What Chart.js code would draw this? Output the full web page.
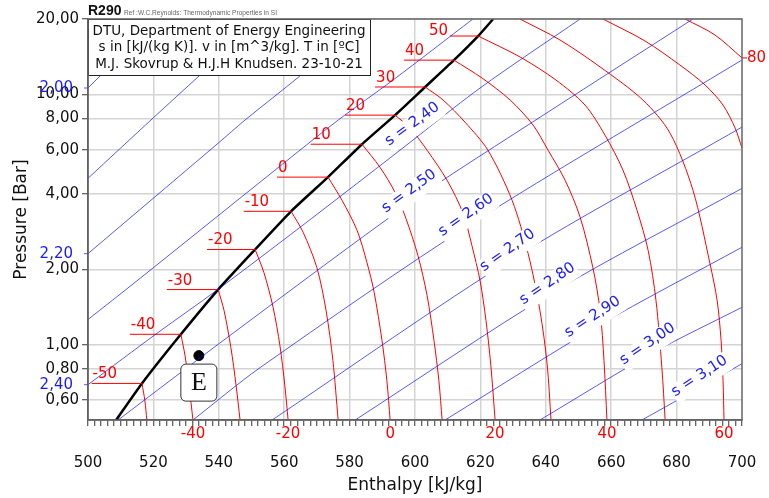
<!DOCTYPE html>
<html><head><meta charset="utf-8">
<script src="https://cdn.jsdelivr.net/npm/chart.js@4/dist/chart.umd.min.js"></script>
<style>html,body{margin:0;padding:0;background:#fff;overflow:hidden}</style>
</head><body>
<canvas id="c" width="769" height="498"></canvas>
<script>
// ---------- data (h in kJ/kg, p in bar) ----------
const yTicks = [0.6, 0.8, 1, 2, 4, 6, 8, 10, 20];
const satLine = [[508.6,0.5],[516.5,0.70],[528.4,1.10],[539.8,1.66],[551.1,2.40],[562.1,3.41],[573.4,4.67],[583.8,6.32],[593.9,8.26],[603.1,10.7],[611.9,13.7],[619.3,17.1],[623.9,20]];
const isoTemps = [-50,-40,-30,-20,-10,0,10,20,30,40,50];
const isoLeftH = [501.1,512.8,524.1,536.4,547.6,557.8,568.1,578.6,587.8,596.6,610.7];
const isoM50 = [[516.5,0.70],[517.4,0.597],[518.0,0.5]];
const isoM40 = [[528.4,1.10],[529.7,0.90],[530.9,0.685],[532.1,0.5]];
const isoM30 = [[539.8,1.66],[541.6,1.37],[543.7,0.973],[545.3,0.685],[546.5,0.5]];
const isoM20 = [[551.1,2.40],[553.8,1.94],[556.6,1.41],[558.7,0.99],[560.2,0.685],[561.2,0.5]];
const isoM10 = [[562.1,3.41],[565.8,2.81],[570.0,2.03],[572.8,1.37],[574.9,0.863],[576.5,0.5]];
const iso0  = [[573.4,4.67],[577.7,3.77],[582.3,2.86],[585.3,2.13],[587.5,1.62],[589.9,1.04],[591.4,0.718],[592.4,0.5]];
const iso10 = [[583.8,6.32],[589.3,5.11],[593.9,4.06],[597.2,3.20],[600.9,2.27],[603.7,1.57],[605.8,1.04],[607.3,0.718],[608.3,0.5]];
const iso20 = [[593.9,8.26],[598.5,7.33],[603.7,5.98],[609.8,4.54],[614.7,3.35],[617.4,2.49],[619.9,1.80],[621.7,1.25],[623.2,0.824],[624.5,0.5]];
const iso30 = [[603.1,10.7],[608.6,9.49],[615.3,7.74],[622.3,5.98],[629.7,3.77],[634.6,2.31],[638.2,1.37],[640.4,0.839],[641.6,0.5]];
const iso40 = [[611.9,13.7],[620.5,11.62],[629.1,9.49],[636.1,7.54],[640.7,5.98],[645.9,4.54],[650.5,3.23],[654.4,2.03],[656.6,1.37],[657.8,0.863],[658.7,0.5]];
const iso50 = [[619.3,17.1],[632.1,14.11],[643.1,11.41],[652.0,9.06],[658.1,6.87],[663.6,4.98],[667.9,3.44],[671.3,2.38],[673.7,1.50],[675.5,0.809],[676.5,0.5]];
const iso60 = [[632.1,20],[644.3,16.5],[656.6,12.87],[669.7,9.49],[678.0,7.00],[685.0,4.14],[690.2,2.11],[692.4,1.50],[693.6,1.04],[694.2,0.718],[694.5,0.5]];
const iso70 = [[657.5,20],[670.3,16.35],[681.0,13.10],[688.7,10.9],[694.2,9.06],[697.9,7.33],[700,6.10]];
const iso80 = [[682.6,20],[691.7,17.28],[700,13.98]];
const bottomLabelTemps = [-40,-20,0,20,40,60];

const s200 = [[500,10.6],[521.1,20]];
const s210 = [[500,4.62],[519.9,8.04],[534.3,11.95],[553.2,20]];
const s220 = [[500,2.31],[539.8,6.38],[548.0,7.89],[564.8,11.84],[585.6,20]];
const s230 = [[500,1.26],[515.0,1.80],[557.2,4.98],[576.5,7.89],[593.3,11.41],[617.7,20]];
const s240 = [[500,0.692],[521.1,1.11],[539.4,1.65],[564.8,2.94],[595.4,5.98],[619.9,10.6],[650.5,20]];
const s250 = [[509.2,0.5],[544.3,1.11],[600.0,3.81],[632.1,7.19],[685.0,20]];
const s260 = [[532.1,0.5],[552.6,0.809],[617.4,3.05],[700,13.72]];
const s270 = [[556.3,0.5],[630.0,2.21],[700,7.40]];
const s280 = [[581.7,0.5],[642.2,1.62],[700,4.21]];
const s290 = [[609.2,0.5],[656.0,1.19],[700,2.45]];
const s300 = [[638.2,0.5],[672.8,0.929],[700,1.41]];
const s310 = [[669.4,0.5],[688.7,0.692],[700,0.839]];
const sLeftLabels = ['2,00','2,20','2,40'];
const sInLabels = ['s = 2,40','s = 2,50','s = 2,60','s = 2,70','s = 2,80','s = 2,90','s = 3,00','s = 3,10'];
const sInLabelAt = [[599.2,7.60],[598.2,4.10],[615.6,3.29],[628.3,2.38],[640.5,1.75],[654.3,1.29],[671.1,1.005],[687.0,0.748]];
const pointE = [533.9, 0.904];

// ---------- styles ----------
const sInLabelAngle = [36,36,35,35,34,33,34,33];
const RED = '#ff0000', BLUE = 'rgba(0,0,255,0.65)';
const FONT = '"DejaVu Sans", sans-serif';

const isoCurves = [isoM50,isoM40,isoM30,isoM20,isoM10,iso0,iso10,iso20,iso30,iso40,iso50];
const allIso = isoCurves.concat([iso60,iso70,iso80]);
const allIsoTemps = isoTemps.concat([60,70,80]);
const isentropes = [s200,s210,s220,s230,s240,s250,s260,s270,s280,s290,s300,s310];

const pts = a => a.map(([h,p]) => ({x:h, y:p}));
const ds = [];
isentropes.forEach(s => ds.push({data:pts(s), showLine:true, borderColor:BLUE, borderWidth:1, pointRadius:0, tension:0.3}));
isoCurves.forEach((c,i) => ds.push({data:pts([[isoLeftH[i], c[0][1]], c[0]]), showLine:true, borderColor:RED, borderWidth:1, pointRadius:0, tension:0}));
allIso.forEach(c => ds.push({data:pts(c), showLine:true, borderColor:RED, borderWidth:1, pointRadius:0, tension:0.3}));
ds.push({data:pts(satLine), showLine:true, borderColor:'#000', borderWidth:2.5, pointRadius:0, tension:0.2});
ds.push({data:pts([pointE]), showLine:false, pointRadius:5, pointBackgroundColor:'#000', pointBorderColor:'#000'});

const annot = {
  id:'annot',
  afterDatasetsDraw(chart){
    const {ctx, chartArea:ca} = chart;
    const X = v => chart.scales.x.getPixelForValue(v), Y = v => chart.scales.y.getPixelForValue(v);
    ctx.save();
    // isentrope labels
    ctx.font = '15px ' + FONT;
    sInLabels.forEach((t,i) => {
      const cx = X(sInLabelAt[i][0]), cy = Y(sInLabelAt[i][1]);
      ctx.save(); ctx.translate(cx, cy); ctx.rotate(-sInLabelAngle[i]*Math.PI/180);
      const w = ctx.measureText(t).width;
      ctx.fillStyle = '#fff'; ctx.fillRect(-w/2-1, -8, w+2, 20);
      ctx.fillStyle = '#2020ff'; ctx.textAlign = 'center'; ctx.textBaseline = 'middle';
      ctx.fillText(t, 0, 0);
      ctx.restore();
    });
    // isotherm labels at saturation
    ctx.fillStyle = RED; ctx.textBaseline = 'alphabetic';
    isoTemps.forEach((t,i) => {
      const y0 = Y(isoCurves[i][0][1]), xl = X(isoLeftH[i]);
      if (i === isoTemps.length-1) { ctx.textAlign = 'right'; ctx.fillText(String(t), xl-2, y0-1); }
      else { ctx.textAlign = 'left'; ctx.fillText(String(t), xl+1, y0-5); }
    });
    // bottom isotherm labels
    ctx.textAlign = 'center'; ctx.textBaseline = 'middle';
    bottomLabelTemps.forEach(t => {
      const c = allIso[allIsoTemps.indexOf(t)];
      ctx.fillText(String(t), X(c[c.length-1][0]), ca.bottom + 14);
    });
    // 80 at right edge
    const y80 = Y(iso80[iso80.length-1][1]);
    ctx.strokeStyle = RED; ctx.lineWidth = 1;
    ctx.beginPath(); ctx.moveTo(ca.right, y80); ctx.lineTo(ca.right+5, y80); ctx.stroke();
    ctx.textAlign = 'left'; ctx.fillText('80', ca.right+5, y80);
    // left entropy labels
    ctx.fillStyle = '#1a1aff'; ctx.strokeStyle = BLUE; ctx.textAlign = 'right';
    [s200,s220,s240].forEach((s,i) => {
      const yy = Y(s[0][1]);
      ctx.fillText(sLeftLabels[i], ca.left-15, yy);
      ctx.beginPath(); ctx.moveTo(ca.left-4, yy); ctx.lineTo(ca.left, yy); ctx.stroke();
    });
    // E label box
    const ex = X(pointE[0]), ey = Y(pointE[1]);
    ctx.beginPath(); ctx.roundRect(ex-18, ey+8.5, 36, 37, 5);
    ctx.fillStyle = '#fff'; ctx.fill(); ctx.strokeStyle = '#333'; ctx.lineWidth = 1; ctx.stroke();
    ctx.fillStyle = '#111'; ctx.font = '26px "Liberation Serif", serif'; ctx.textAlign = 'center'; ctx.textBaseline = 'middle';
    ctx.fillText('E', ex, ey+28);
    // info box
    ctx.fillStyle = '#fff'; ctx.fillRect(ca.left, ca.top, 282, 56);
    ctx.strokeStyle = '#222'; ctx.lineWidth = 1; ctx.strokeRect(ca.left+0.5, ca.top+0.5, 282, 56);
    ctx.fillStyle = '#111'; ctx.font = '13.5px ' + FONT;
    ctx.fillText('DTU, Department of Energy Engineering', ca.left+141, ca.top+12.5);
    ctx.fillText('s in [kJ/(kg K)]. v in [m^3/kg]. T in [\u00BAC]', ca.left+141, ca.top+28.5);
    ctx.fillText('M.J. Skovrup & H.J.H Knudsen. 23-10-21', ca.left+141, ca.top+45);
    // frame
    ctx.strokeStyle = '#666'; ctx.lineWidth = 1.5;
    ctx.strokeRect(ca.left, ca.top, ca.right-ca.left, ca.bottom-ca.top);
    // title
    ctx.textAlign = 'left'; ctx.textBaseline = 'alphabetic';
    ctx.fillStyle = '#111'; ctx.font = 'bold 14px "Liberation Sans", Arial, sans-serif';
    ctx.fillText('R290', ca.left, 15);
    ctx.fillStyle = '#666'; ctx.font = '7px "Liberation Sans", Arial, sans-serif';
    ctx.fillText('Ref :W.C.Reynolds: Thermodynamic Properties in SI', 124, 15, 153);
    ctx.restore();
  }
};

new Chart(document.getElementById('c'), {
  type:'scatter',
  data:{datasets:ds},
  options:{
    responsive:false, animation:false, devicePixelRatio:1,
    layout:{padding:{top:19, right:27, left:0, bottom:0}},
    plugins:{legend:{display:false}, tooltip:{enabled:false}},
    scales:{
      x:{type:'linear', min:500, max:700,
        afterFit(a){ a.height = 78; a.paddingLeft = 0; a.paddingRight = 0; },
        ticks:{stepSize:2, autoSkip:false, maxRotation:0, minRotation:0, padding:28, color:'#111',
          font:{family:FONT, size:15}, callback:v => (v % 20 === 0 ? String(v) : '')},
        grid:{color:c => (c.tick && c.tick.value % 20 === 0 && c.tick.value > 500 && c.tick.value < 700) ? '#d4d4d4' : 'rgba(0,0,0,0)',
          lineWidth:1.5, drawTicks:true, tickLength:6, tickColor:'#333', tickWidth:1},
        border:{display:true, color:'#555', width:1.5},
        title:{display:true, text:'Enthalpy [kJ/kg]', color:'#111', font:{family:FONT, size:17}, padding:{top:0, bottom:2}}
      },
      y:{type:'logarithmic', min:0.5, max:20,
        afterFit(a){ a.width = 88; a.paddingTop = 0; a.paddingBottom = 0; },
        afterBuildTicks(a){ a.ticks = yTicks.map(v => ({value:v})); },
        ticks:{autoSkip:false, padding:3, color:'#111', font:{family:FONT, size:15},
          callback:v => Number(v).toFixed(2).replace('.', ',')},
        grid:{color:'#d4d4d4', lineWidth:1.5, drawTicks:true, tickLength:6, tickColor:'#333', tickWidth:1},
        border:{display:true, color:'#555', width:1.5},
        title:{display:true, text:'Pressure [Bar]', color:'#111', font:{family:FONT, size:17}, padding:{top:11, bottom:0}}
      }
    }
  },
  plugins:[annot]
});
</script>
</body></html>
